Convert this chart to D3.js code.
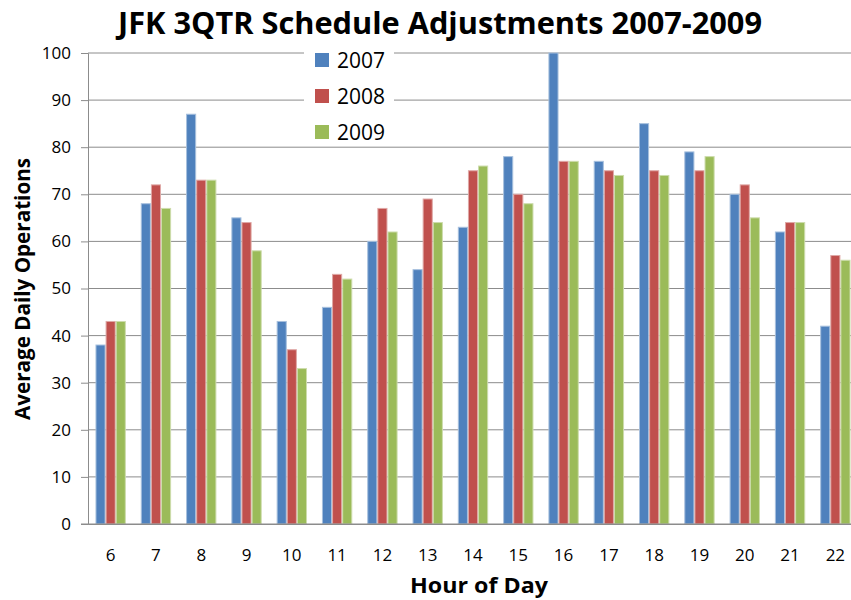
<!DOCTYPE html>
<html>
<head>
<meta charset="utf-8">
<script src="https://cdn.jsdelivr.net/npm/d3@7"></script>
<style>
  body { margin: 0; background: #fff; }
  text { font-family: "Open Sans", "Noto Sans", sans-serif; fill: #000; }
</style>
</head>
<body>
<div id="chart"></div>
<script>
// chart data
var hours = ["6", "7", "8", "9", "10", "11", "12", "13", "14", "15", "16", "17", "18", "19", "20", "21", "22"];
var seriesNames = ["2007", "2008", "2009"];
var ops2007 = [38, 68, 87, 65, 43, 46, 60, 54, 63, 78, 100, 77, 85, 79, 70, 62, 42];
var ops2008 = [43, 72, 73, 64, 37, 53, 67, 69, 75, 70, 77, 75, 75, 75, 72, 64, 57];
var ops2009 = [43, 67, 73, 58, 33, 52, 62, 64, 76, 68, 77, 74, 74, 78, 65, 64, 56];
var yTicks = [0, 10, 20, 30, 40, 50, 60, 70, 80, 90, 100];

var colors = ["#4F81BD", "#C0504D", "#9BBB59"];
var edges = ["#a7c0de", "#dfa8a6", "#cddcac"];

var svgWidth = 851;
var svgHeight = 600;
var margin = { top: 53, right: -7, bottom: 76, left: 88 };
var width = svgWidth - margin.left - margin.right;
var height = svgHeight - margin.top - margin.bottom;

var svg = d3.select("#chart")
  .append("svg")
  .attr("width", svgWidth)
  .attr("height", svgHeight);

var chartGroup = svg.append("g")
  .attr("transform", `translate(${margin.left}, ${margin.top})`);

var data = hours.map(function(h, i) {
  return { hour: h, values: [ops2007[i], ops2008[i], ops2009[i]] };
});

var xScale = d3.scaleBand()
  .domain(hours)
  .range([0, width])
  .paddingInner(0.33)
  .paddingOuter(0.165);

var xSub = d3.scaleBand()
  .domain(seriesNames)
  .range([0, xScale.bandwidth()]);

var yScale = d3.scaleLinear()
  .domain([0, 100])
  .range([height, 0]);

// gridlines
chartGroup.append("g")
  .selectAll("line")
  .data(yTicks.slice(1))
  .enter()
  .append("line")
  .attr("x1", 0)
  .attr("x2", width)
  .attr("y1", d => yScale(d))
  .attr("y2", d => yScale(d))
  .attr("stroke", "#8c8c8c")
  .attr("stroke-width", 1);

// left axis
var leftAxis = d3.axisLeft(yScale)
  .tickValues(yTicks)
  .tickSize(7)
  .tickPadding(10);

var yAxis = chartGroup.append("g").call(leftAxis);
yAxis.select(".domain").attr("stroke", "#8c8c8c");
yAxis.selectAll(".tick line").attr("stroke", "#8c8c8c");
yAxis.selectAll("text").style("font-size", "17px");

// bars
var groups = chartGroup.selectAll(".hour")
  .data(data)
  .enter()
  .append("g")
  .attr("class", "hour")
  .attr("transform", d => `translate(${xScale(d.hour)}, 0)`);

groups.selectAll("rect")
  .data(d => d.values.map((v, i) => ({ name: seriesNames[i], value: v, i: i })))
  .enter()
  .append("rect")
  .attr("x", d => xSub(d.name) + 0.5)
  .attr("y", d => yScale(d.value))
  .attr("width", xSub.bandwidth() - 1)
  .attr("height", d => height - yScale(d.value))
  .attr("fill", d => colors[d.i])
  .attr("stroke", d => edges[d.i])
  .attr("stroke-width", 1);

// bottom axis
var bottomAxis = d3.axisBottom(xScale).tickSize(0).tickPadding(25);
var xAxis = chartGroup.append("g")
  .attr("transform", `translate(0, ${height})`)
  .call(bottomAxis);
xAxis.select(".domain").attr("stroke", "#8c8c8c");
xAxis.selectAll("text").style("font-size", "17px");

// zero line with its stub left of the axis
chartGroup.append("line")
  .attr("x1", -7).attr("x2", width)
  .attr("y1", height).attr("y2", height)
  .attr("stroke", "#8c8c8c");

// legend
var legend = svg.append("g")
  .attr("transform", "translate(304, 42)");
legend.append("rect")
  .attr("width", 90)
  .attr("height", 104)
  .attr("fill", "#fff");
seriesNames.forEach(function(name, i) {
  var row = legend.append("g")
    .attr("transform", `translate(11, ${18 + i * 36})`);
  row.append("rect")
    .attr("x", 0).attr("y", -7)
    .attr("width", 14).attr("height", 14)
    .attr("fill", colors[i]);
  row.append("text")
    .attr("x", 22)
    .attr("y", 0)
    .attr("dy", "0.36em")
    .style("font-size", "21px")
    .text(name);
});

// title
svg.append("text")
  .attr("x", 440)
  .attr("y", 34)
  .attr("text-anchor", "middle")
  .attr("textLength", 644)
  .attr("lengthAdjust", "spacingAndGlyphs")
  .style("font-size", "30px")
  .style("font-weight", "bold")
  .text("JFK 3QTR Schedule Adjustments 2007-2009");

// axis titles
svg.append("text")
  .attr("x", 479)
  .attr("y", 593)
  .attr("text-anchor", "middle")
  .attr("textLength", 138)
  .attr("lengthAdjust", "spacingAndGlyphs")
  .style("font-size", "21px")
  .style("font-weight", "bold")
  .text("Hour of Day");

svg.append("text")
  .attr("transform", "translate(30, 289) rotate(-90)")
  .attr("text-anchor", "middle")
  .attr("textLength", 262)
  .attr("lengthAdjust", "spacingAndGlyphs")
  .style("font-size", "21px")
  .style("font-weight", "bold")
  .text("Average Daily Operations");
</script>
</body>
</html>
